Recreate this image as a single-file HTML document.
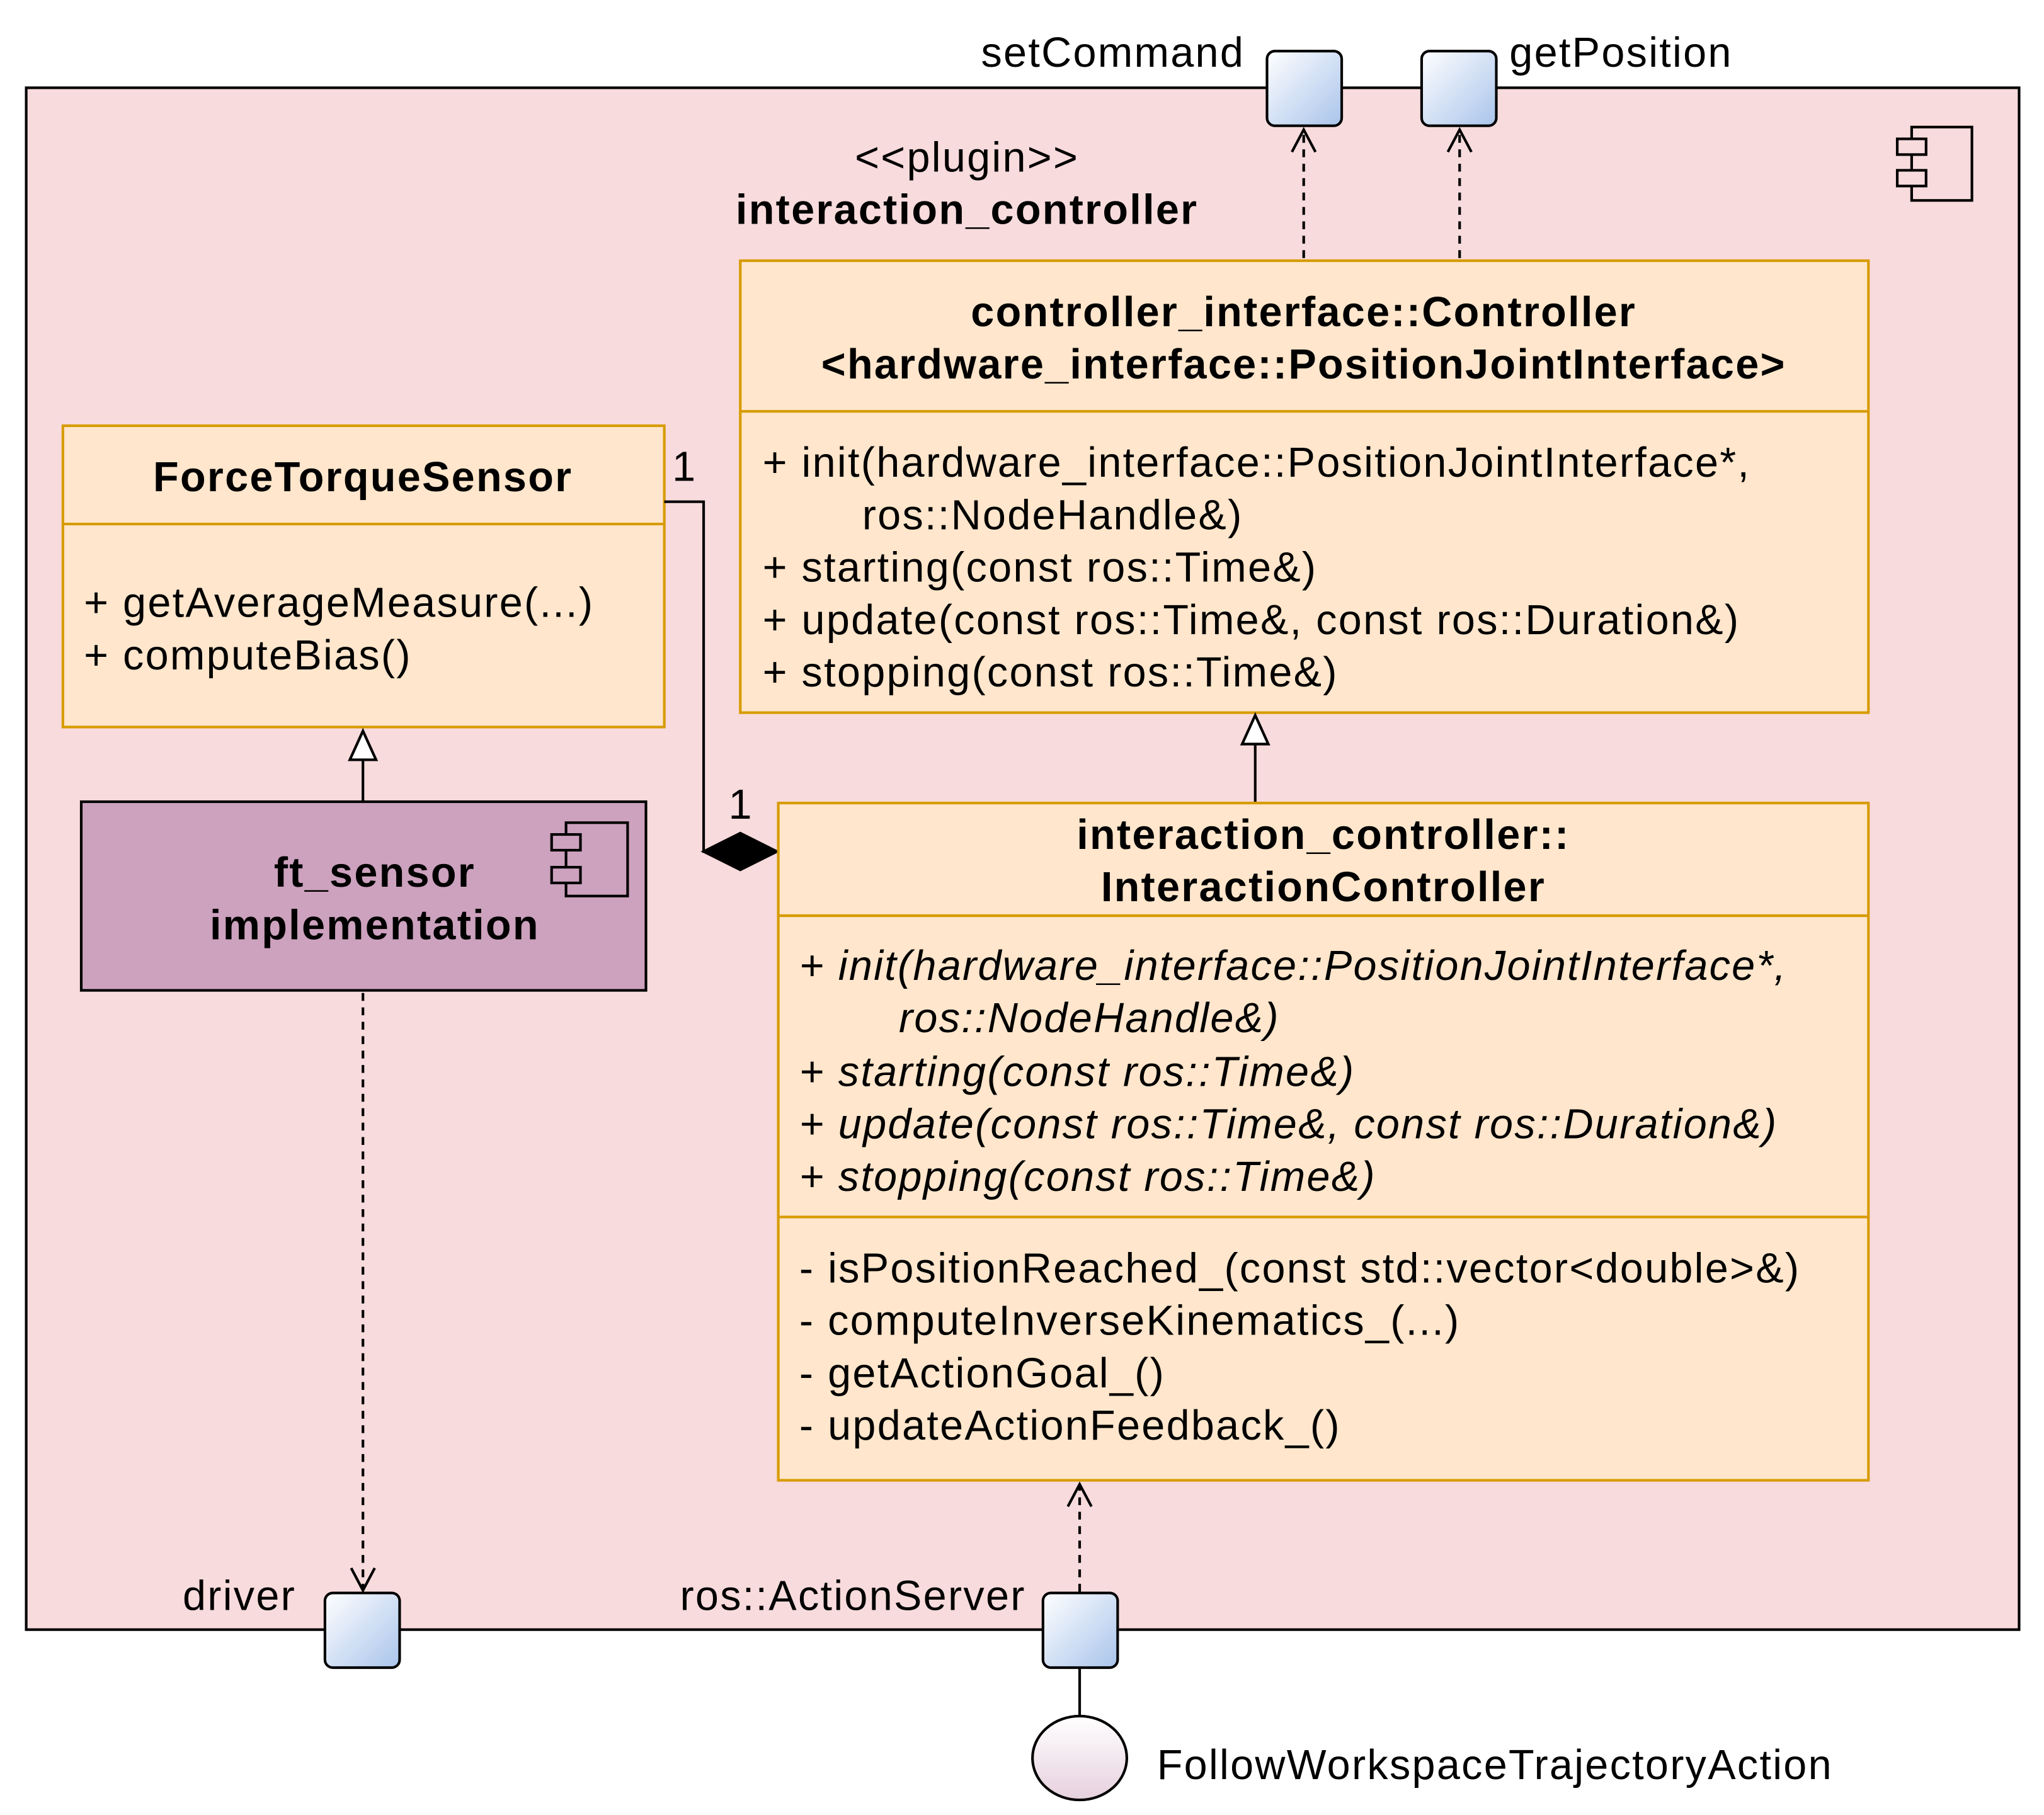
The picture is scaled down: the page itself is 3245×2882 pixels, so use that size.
<!DOCTYPE html>
<html><head><meta charset="utf-8"><style>html,body{margin:0;padding:0;background:#fff}svg{display:block}</style></head>
<body>
<svg width="3245" height="2882" viewBox="0 0 1560 1385.5" xmlns="http://www.w3.org/2000/svg" font-family="Liberation Sans, Arial, sans-serif" font-size="32" letter-spacing="1.1">
<defs>
<linearGradient id="pg" x1="0" y1="0" x2="1" y2="1"><stop offset="0" stop-color="#ffffff"/><stop offset="1" stop-color="#a9c4eb"/></linearGradient>
<linearGradient id="eg" x1="0" y1="0" x2="0" y2="1"><stop offset="0" stop-color="#ffffff"/><stop offset="1" stop-color="#e6d0de"/></linearGradient>
</defs>
<rect x="20" y="67" width="1521" height="1177" fill="#f8dbdc" stroke="#000" stroke-width="2"/>
<rect x="1459" y="97" width="46" height="56" fill="none" stroke="#000" stroke-width="2"/>
<rect x="1448" y="106" width="22" height="12" fill="#f8dbdc" stroke="#000" stroke-width="2"/>
<rect x="1448" y="130" width="22" height="12" fill="#f8dbdc" stroke="#000" stroke-width="2"/>
<rect x="967" y="39" width="57" height="57" rx="6" fill="url(#pg)" stroke="#000" stroke-width="2"/>
<rect x="1085" y="39" width="57" height="57" rx="6" fill="url(#pg)" stroke="#000" stroke-width="2"/>
<text x="950" y="51" text-anchor="end">setCommand</text>
<text x="1152" y="51">getPosition</text>
<text x="738" y="131" text-anchor="middle">&lt;&lt;plugin&gt;&gt;</text>
<text x="738" y="171" text-anchor="middle" font-weight="bold">interaction_controller</text>
<g stroke="#000" stroke-width="2" fill="none">
<path d="M995 197 V100" stroke-dasharray="6 5"/><path d="M986 116 L995 99 L1004 116"/>
<path d="M1114 197 V100" stroke-dasharray="6 5"/><path d="M1105 116 L1114 99 L1123 116"/>
</g>
<rect x="565" y="199" width="861" height="345" fill="#ffe6cc" stroke="#d79b00" stroke-width="2"/>
<line x1="565" y1="314" x2="1426" y2="314" stroke="#d79b00" stroke-width="2"/>
<text x="995" y="249" text-anchor="middle" font-weight="bold">controller_interface::Controller</text>
<text x="995" y="289" text-anchor="middle" font-weight="bold">&lt;hardware_interface::PositionJointInterface&gt;</text>
<text x="582" y="364">+ init(hardware_interface::PositionJointInterface*,</text>
<text x="658" y="404">ros::NodeHandle&amp;)</text>
<text x="582" y="444">+ starting(const ros::Time&amp;)</text>
<text x="582" y="484">+ update(const ros::Time&amp;, const ros::Duration&amp;)</text>
<text x="582" y="524">+ stopping(const ros::Time&amp;)</text>
<rect x="48" y="325" width="459" height="230" fill="#ffe6cc" stroke="#d79b00" stroke-width="2"/>
<line x1="48" y1="400" x2="507" y2="400" stroke="#d79b00" stroke-width="2"/>
<text x="277" y="375" text-anchor="middle" font-weight="bold">ForceTorqueSensor</text>
<text x="64" y="471">+ getAverageMeasure(...)</text>
<text x="64" y="511">+ computeBias()</text>
<g stroke="#000" stroke-width="2">
<line x1="277" y1="612" x2="277" y2="580"/>
<path d="M267 580 L287 580 L277 558 Z" fill="#fff"/>
<line x1="958" y1="612" x2="958" y2="568"/>
<path d="M948 568 L968 568 L958 546 Z" fill="#fff"/>
</g>
<rect x="62" y="612" width="431" height="144" fill="#cda2be" stroke="#000" stroke-width="2"/>
<text x="286" y="677" text-anchor="middle" font-weight="bold">ft_sensor</text>
<text x="286" y="717" text-anchor="middle" font-weight="bold">implementation</text>
<rect x="432" y="628" width="47" height="56" fill="none" stroke="#000" stroke-width="2"/>
<rect x="421" y="637" width="22" height="12" fill="#cda2be" stroke="#000" stroke-width="2"/>
<rect x="421" y="662" width="22" height="12" fill="#cda2be" stroke="#000" stroke-width="2"/>
<g stroke="#000" stroke-width="2" fill="none">
<path d="M277 758 V1213" stroke-dasharray="6 5"/><path d="M268 1197 L277 1214 L286 1197"/>
<path d="M824 1215 V1134" stroke-dasharray="6 5"/><path d="M815 1150 L824 1133 L833 1150"/>
<path d="M507 383 H537 V650 H540"/>
</g>
<path d="M537 650 L565 636 L593 650 L565 664 Z" fill="#000" stroke="#000" stroke-width="2"/>
<text x="513" y="367">1</text>
<text x="556" y="625">1</text>
<rect x="594" y="613" width="832" height="517" fill="#ffe6cc" stroke="#d79b00" stroke-width="2"/>
<line x1="594" y1="699" x2="1426" y2="699" stroke="#d79b00" stroke-width="2"/>
<line x1="594" y1="929" x2="1426" y2="929" stroke="#d79b00" stroke-width="2"/>
<text x="1010" y="648" text-anchor="middle" font-weight="bold">interaction_controller::</text>
<text x="1010" y="688" text-anchor="middle" font-weight="bold">InteractionController</text>
<g font-style="italic">
<text x="610" y="748">+ init(hardware_interface::PositionJointInterface*,</text>
<text x="686" y="788">ros::NodeHandle&amp;)</text>
<text x="610" y="829">+ starting(const ros::Time&amp;)</text>
<text x="610" y="869">+ update(const ros::Time&amp;, const ros::Duration&amp;)</text>
<text x="610" y="909">+ stopping(const ros::Time&amp;)</text>
</g>
<text x="610" y="979">- isPositionReached_(const std::vector&lt;double&gt;&amp;)</text>
<text x="610" y="1019">- computeInverseKinematics_(...)</text>
<text x="610" y="1059">- getActionGoal_()</text>
<text x="610" y="1099">- updateActionFeedback_()</text>
<rect x="248" y="1216" width="57" height="57" rx="6" fill="url(#pg)" stroke="#000" stroke-width="2"/>
<rect x="796" y="1216" width="57" height="57" rx="6" fill="url(#pg)" stroke="#000" stroke-width="2"/>
<text x="226" y="1229" text-anchor="end">driver</text>
<text x="783" y="1229" text-anchor="end">ros::ActionServer</text>
<line x1="824" y1="1273" x2="824" y2="1310" stroke="#000" stroke-width="2"/>
<ellipse cx="824" cy="1342" rx="36" ry="32" fill="url(#eg)" stroke="#000" stroke-width="2"/>
<text x="883" y="1358">FollowWorkspaceTrajectoryAction</text>
</svg>
</body></html>
